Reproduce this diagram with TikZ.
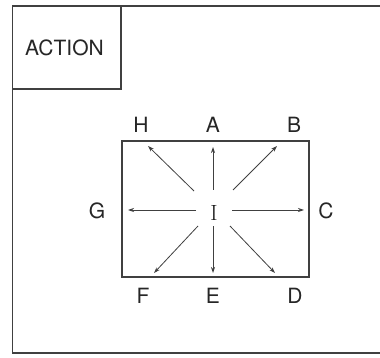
\documentclass[tikz,border=0pt]{standalone}
\usepackage{fontspec}
\setmainfont{TeX Gyre Heros}
\newfontfamily\serifI{Latin Modern Roman}
\usetikzlibrary{arrows.meta}
\begin{document}
\begin{tikzpicture}[x=1pt,y=-1pt,
  frame/.style={draw=black!75,line width=1.7pt},
  lbl/.style={font=\fontsize{21}{21}\selectfont,text=black!85,inner sep=0pt},
  ray/.style={draw=black!75,line width=0.8pt,-{Stealth[length=6pt,width=4pt]}}]
\useasboundingbox[fill=white] (0,0) rectangle (380,358);
\draw[frame] (12.5,6) rectangle (383,353);
\draw[frame] (12.5,6) rectangle (121,89);
\node[lbl] (action) at (64.5,47.5) {ACTION};
\draw[frame] (122,141) rectangle (309,277);
\node[lbl,text=black!90] (I) at (214,213) {\serifI\fontsize{22}{22}\selectfont I};
\node[lbl] (A) at (213,124.5) {A};
\node[lbl] (B) at (294,124.5) {B};
\node[lbl] (C) at (326,211) {C};
\node[lbl] (D) at (295,295.5) {D};
\node[lbl] (E) at (213,295.5) {E};
\node[lbl] (F) at (143,295.5) {F};
\node[lbl] (G) at (97,211) {G};
\node[lbl] (H) at (141,124.5) {H};
\coordinate (sA) at (213,190); \coordinate (eA) at (213,147);
\coordinate (sE) at (213,226); \coordinate (eE) at (213,273);
\coordinate (sC) at (232,210); \coordinate (eC) at (304,210);
\coordinate (sG) at (196,210); \coordinate (eG) at (128,210);
\coordinate (sH) at (194,191); \coordinate (eH) at (148,146);
\coordinate (sB) at (233,190); \coordinate (eB) at (277,146);
\coordinate (sF) at (198,226); \coordinate (eF) at (154,273);
\coordinate (sD) at (230,226); \coordinate (eD) at (275,273);
\foreach \n in {A,B,C,D,E,F,G,H} \draw[ray] (s\n) -- (e\n);
\end{tikzpicture}
\end{document}
